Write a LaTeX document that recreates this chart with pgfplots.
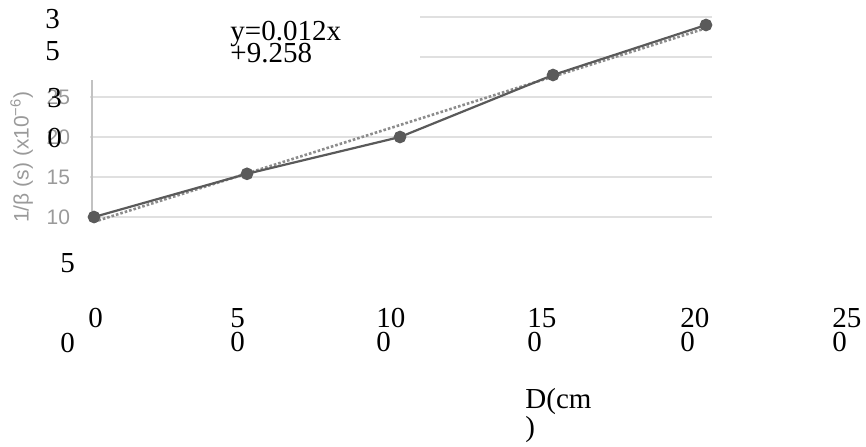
\documentclass[border=0pt]{standalone}
\usepackage{pgfplots}
\pgfplotsset{compat=1.18}
\usepackage{fontspec}
\setmainfont{Liberation Serif}
\newfontfamily\scanfont{Liberation Sans}
\definecolor{scangray}{HTML}{9A9A9A}
\definecolor{gridgray}{HTML}{E0E0E0}
\definecolor{linegray}{HTML}{5A5A5A}
\definecolor{trendgray}{HTML}{8C8C8C}
\tikzset{ov/.style={anchor=base west, inner sep=0pt, font=\fontsize{14.5}{14.5}\selectfont}}
\begin{document}
\begin{tikzpicture}
% ---- the scanned chart ----
\begin{axis}[
  at={(45pt,114.5pt)}, anchor=south west,
  scale only axis, width=311pt, height=100pt,
  xmin=-1.31, xmax=201.96, ymin=10, ymax=35,
  axis x line=none,
  axis y line*=left,
  y axis line style={draw=none},
  xtick=\empty,
  ytick={10,15,20,25},
  ymajorgrids, grid style={gridgray, line width=0.8pt},
  major tick length=0pt,
  /pgf/number format/assume math mode=true,
  yticklabel style={font=\scanfont\fontsize{10.5}{11}\selectfont, text=scangray, xshift=-6.5pt},
  ylabel={1/β (s) (x10\textsuperscript{−6})},
  ylabel style={font=\scanfont\fontsize{10.5}{11}\selectfont, text=scangray,
    at={(axis description cs:-0.11,0.30)}, anchor=center},
  clip=false,
]
\draw[scangray!60, line width=0.6pt] (axis cs:-0.65,10) -- (axis cs:-0.65,27.1);
\draw[gridgray, line width=0.8pt] (axis cs:106.5,30) -- (axis cs:201.96,30);
\draw[gridgray, line width=0.8pt] (axis cs:106.5,35) -- (axis cs:201.96,35);
\addplot[trendgray, densely dotted, line width=1.3pt] coordinates {(0,9.4) (200,33.6)};
\addplot[linegray, line width=1.1pt, mark=*, mark size=2.6pt, mark options={fill=linegray, draw=linegray}]
  coordinates {(0,10) (50,15.4) (100,20) (150,27.75) (200,34)};
\end{axis}
% ---- overlaid text layer (pixel coordinates) ----
\begin{axis}[
  at={(0pt,0pt)}, anchor=south west,
  scale only axis, width=433pt, height=223pt,
  xmin=0, xmax=866, ymin=0, ymax=446, y dir=reverse,
  hide axis, clip=false,
]
\path (axis cs:0,0) rectangle (axis cs:866,446);
\node[ov] at (axis cs:45,28) {3};
\node[ov] at (axis cs:45,60) {5};
\node[ov] at (axis cs:47,107) {3};
\node[ov] at (axis cs:47,147) {0};
\node[ov] at (axis cs:60,272) {5};
\node[ov] at (axis cs:60,352) {0};
\node[ov] at (axis cs:88,327) {0};
\node[ov] at (axis cs:230,327) {5};
\node[ov] at (axis cs:230,351) {0};
\node[ov] at (axis cs:376,327) {10};
\node[ov] at (axis cs:376,351) {0};
\node[ov] at (axis cs:527,327) {15};
\node[ov] at (axis cs:527,351) {0};
\node[ov] at (axis cs:680,327) {20};
\node[ov] at (axis cs:680,351) {0};
\node[ov] at (axis cs:832,327) {25};
\node[ov] at (axis cs:832,351) {0};
\node[ov] at (axis cs:230,40) {y=0.012x};
\node[ov] at (axis cs:230,62) {+9.258};
\node[ov] at (axis cs:525,408) {D(cm};
\node[ov] at (axis cs:525,436) {)};
\end{axis}
\end{tikzpicture}
\end{document}
